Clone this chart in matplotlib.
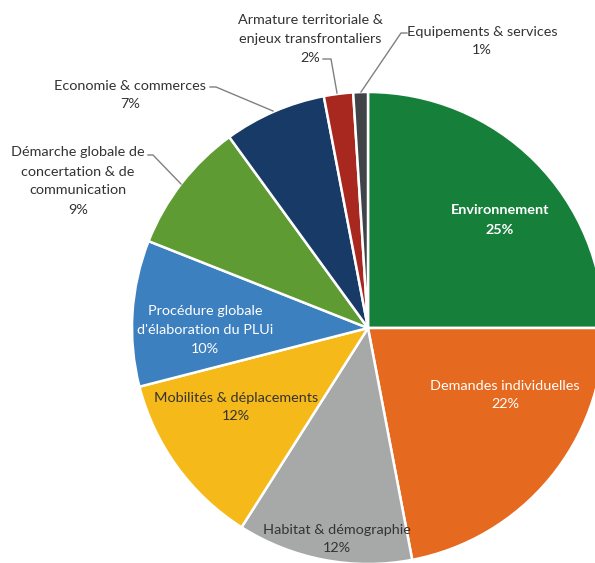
import matplotlib
matplotlib.use("Agg")
import matplotlib.pyplot as plt

categories = ["Environnement", "Demandes individuelles", "Habitat & démographie",
              "Mobilités & déplacements", "Procédure globale\nd'élaboration du PLUi",
              "Démarche globale de\nconcertation & de\ncommunication",
              "Economie & commerces", "Armature territoriale &\nenjeux transfrontaliers",
              "Equipements & services"]
values = [25, 22, 12, 12, 10, 9, 7, 2, 1]
colors = ["#16803a", "#e5691f", "#a7a9a8", "#f5b919", "#3d80bf", "#5f9b33",
          "#183a66", "#a8281f", "#404448"]

plt.rcParams['font.family'] = ['Lato', 'DejaVu Sans']

fig = plt.figure(figsize=(5.95, 5.63), dpi=100)
ax = fig.add_axes([0, 0, 1, 1])
cx, cy, R = 368, -328, 236
wedges, _ = ax.pie(values, colors=colors, startangle=90, counterclock=False,
                   center=(cx, cy), radius=R,
                   wedgeprops=dict(edgecolor="white", linewidth=1.8))
ax.set_xlim(0, 595)
ax.set_ylim(-563, 0)
ax.set_aspect('equal')
ax.axis('off')

fs = 10.4
ls = 1.7
pct = [f"{v}%" for v in values]

# inside labels
inside = {0: (500, -220, "white", "bold"), 1: (505, -395, "white", "normal"),
          2: (337, -539, "#333333", "normal"), 3: (236, -407, "#333333", "normal"),
          4: (205, -330, "white", "normal")}
for i, (x, y, c, w) in inside.items():
    ax.text(x, y, categories[i] + "\n" + pct[i], ha="center", va="center",
            color=c, fontsize=fs, fontweight=w, linespacing=ls)

# outside labels
lc = "#808080"
ax.text(130, -95, categories[6] + "\n" + pct[6], ha="center", va="center",
        color="#333333", fontsize=fs, linespacing=ls)
ax.plot([210, 216, 273], [-87, -87, -111], color=lc, lw=1)

ax.text(78, -181, categories[5] + "\n" + pct[5], ha="center", va="center",
        color="#333333", fontsize=fs, linespacing=ls)
ax.plot([148, 153, 181], [-155, -155, -184], color=lc, lw=1)

ax.text(310, -39, categories[7] + "\n" + pct[7], ha="center", va="center",
        color="#333333", fontsize=fs, linespacing=ls)
ax.plot([323, 331, 337], [-59, -59, -93], color=lc, lw=1)

ax.text(482, -41, categories[8] + "\n" + pct[8], ha="center", va="center",
        color="#333333", fontsize=fs, linespacing=ls)
ax.plot([407, 401, 361], [-33, -33, -92], color=lc, lw=1)

fig.savefig("out.png", dpi=100)
